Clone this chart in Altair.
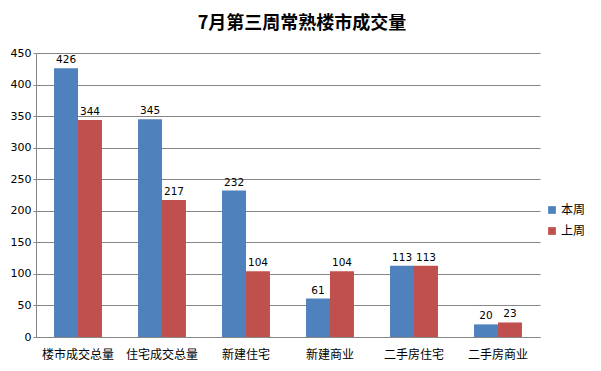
import altair as alt
import pandas as pd

categories = ["楼市成交总量", "住宅成交总量", "新建住宅", "新建商业", "二手房住宅", "二手房商业"]
this_week = [426, 345, 232, 61, 113, 20]
last_week = [344, 217, 104, 104, 113, 23]
series = ["本周", "上周"]

rows = []
for c, a, b in zip(categories, this_week, last_week):
    rows.append({"cat": c, "series": series[0], "value": a})
    rows.append({"cat": c, "series": series[1], "value": b})
df = pd.DataFrame(rows)

FONT = "DejaVu Sans, Noto Sans CJK SC"

x = alt.X("cat:N", sort=categories, title=None,
          scale=alt.Scale(paddingInner=0.43, paddingOuter=0.215),
          axis=alt.Axis(labelAngle=0, labelFont="Noto Sans CJK SC", labelFontSize=12,
                        labelColor="#000000", labelPadding=12, ticks=False,
                        domainColor="#868686", grid=False))
xo = alt.XOffset("series:N", sort=series, scale=alt.Scale(paddingInner=0, paddingOuter=0))
y = alt.Y("value:Q", title=None,
          scale=alt.Scale(domain=[0, 450], nice=False),
          axis=alt.Axis(values=list(range(0, 451, 50)), labelFont=FONT, labelFontSize=11,
                        labelColor="#000000", labelPadding=2, tickSize=3, tickColor="#868686",
                        domainColor="#868686", gridColor="#868686", grid=True))

color = alt.Color("series:N", sort=series,
                  scale=alt.Scale(domain=series, range=["#4F81BD", "#C0504D"]),
                  legend=alt.Legend(title=None, orient="none", legendX=510, legendY=151,
                                    symbolType="square", symbolSize=60, symbolStrokeWidth=0,
                                    labelFont="Noto Sans CJK SC", labelFontSize=12,
                                    labelColor="#000000", rowPadding=9, labelOffset=3))

bars = alt.Chart(df).mark_bar(size=24).encode(x=x, xOffset=xo, y=y, color=color)
labels = alt.Chart(df).mark_text(dy=-8, font=FONT, fontSize=10.5, color="#000000").encode(
    x=x, xOffset=xo, y=y, text="value:Q")

chart = (bars + labels).properties(
    width=504, height=284,
    title=alt.TitleParams("7月第三周常熟楼市成交量", font="Noto Sans CJK SC", fontSize=18,
                          fontWeight="bold", color="#000000", anchor="middle", dx=14, offset=14),
    autosize=alt.AutoSizeParams(type="none"),
    padding={"left": 28, "top": 45, "right": 50, "bottom": 26},
).configure_view(stroke=None).configure_axis(gridWidth=1)

chart.save("out.html", embed_options={"renderer": "svg", "actions": False})
